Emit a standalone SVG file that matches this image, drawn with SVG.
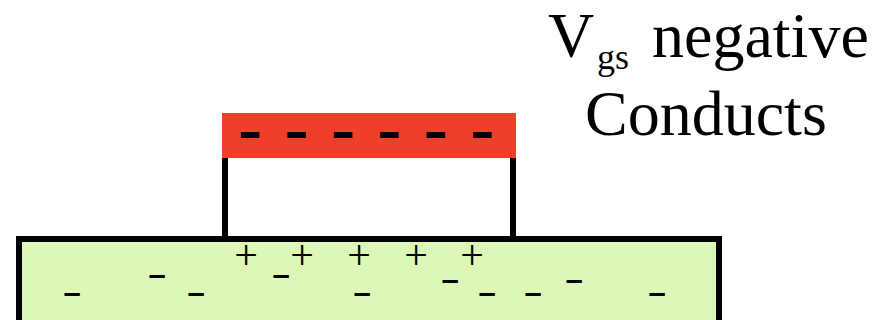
<svg xmlns="http://www.w3.org/2000/svg" width="890" height="320" viewBox="0 0 890 320">
  <style>
    .lbl { font-family: "Liberation Serif", "Times New Roman", serif; fill: #000; }
    .plus { font-family: "Liberation Serif", serif; font-size: 42px; text-anchor: middle; fill: #000; }
    .minus { font-family: "Liberation Sans", Arial, sans-serif; font-size: 31px; font-weight: bold; text-anchor: middle; fill: #000; }
    .dash { font-family: "Liberation Sans", Arial, sans-serif; font-size: 76px; fill: #000; }
  </style>
  <rect width="890" height="320" fill="#ffffff"/>
  <g id="substrate">
    <rect x="19" y="239" width="700" height="100" fill="#ddf7b6" stroke="#000" stroke-width="6"/>
    <text class="plus" x="246" y="269">+</text>
    <text class="plus" x="302" y="269">+</text>
    <text class="plus" x="359" y="269">+</text>
    <text class="plus" x="416" y="269">+</text>
    <text class="plus" x="472" y="269">+</text>
    <text class="minus" x="72" y="303">–</text>
    <text class="minus" x="157" y="285">–</text>
    <text class="minus" x="196" y="303">–</text>
    <text class="minus" x="281" y="285">–</text>
    <text class="minus" x="362" y="303">–</text>
    <text class="minus" x="450" y="290">–</text>
    <text class="minus" x="487" y="303">–</text>
    <text class="minus" x="533" y="303">–</text>
    <text class="minus" x="574" y="290">–</text>
    <text class="minus" x="657" y="303">–</text>
  </g>
  <g id="oxide">
    <line x1="225" y1="150" x2="225" y2="239" stroke="#000" stroke-width="6"/>
    <line x1="513" y1="150" x2="513" y2="239" stroke="#000" stroke-width="6"/>
  </g>
  <g id="gate">
    <rect x="222" y="113" width="294" height="45" fill="#f03f28"/>
    <text class="dash" x="237.6" y="155">- - - - - -</text>
  </g>
  <g id="label">
    <text class="lbl" x="548" y="57" font-size="64">V</text>
    <text class="lbl" x="597" y="69" font-size="36">gs</text>
    <text class="lbl" x="652" y="57" font-size="64">negative</text>
    <text class="lbl" x="585" y="135" font-size="64">Conducts</text>
  </g>
</svg>
